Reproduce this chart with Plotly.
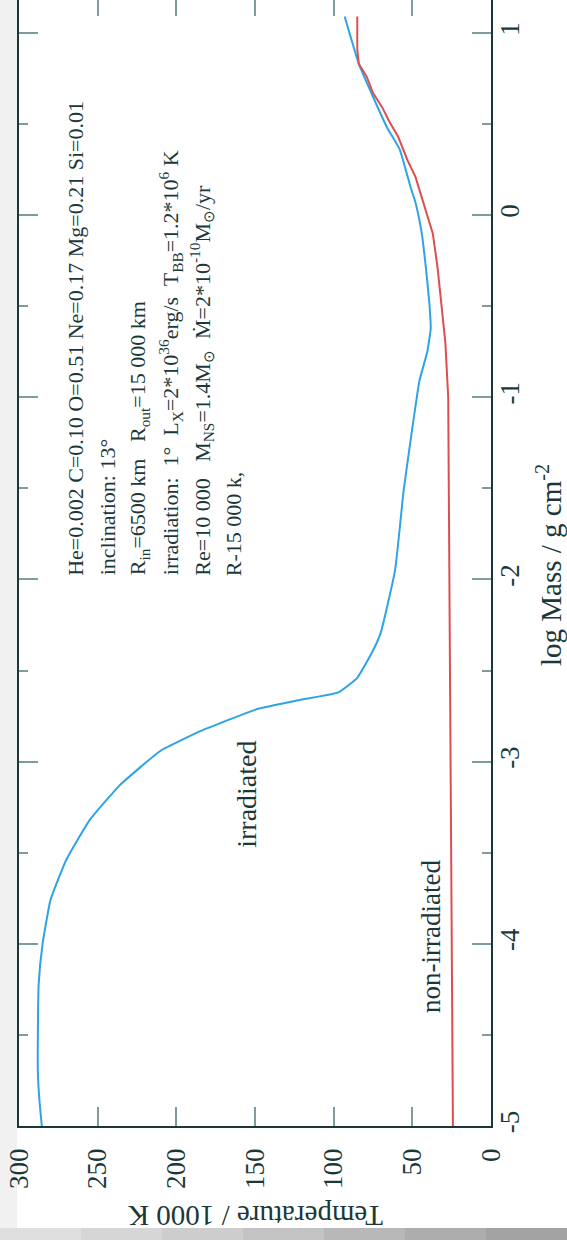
import plotly.graph_objects as go

# Irradiated atmosphere: temperature (1000 K) against log column mass (g cm^-2)
irr_logm = [-5.00, -4.86, -4.71, -4.49, -4.22, -4.00, -3.76, -3.54, -3.32, -3.13,
            -2.94, -2.83, -2.71, -2.66, -2.62, -2.54, -2.39, -2.29, -1.95, -1.51,
            -1.23, -0.91, -0.75, -0.62, -0.47, -0.28, -0.10, 0.07, 0.15, 0.36,
            0.48, 0.65, 0.83, 1.09]
irr_temp = [285.5, 287.0, 288.0, 288.0, 287.5, 285.0, 280.0, 270.0, 255.0, 236.0,
            210.0, 184.0, 148.0, 121.0, 97.0, 85.0, 75.0, 70.0, 61.0, 55.5,
            51.0, 45.5, 40.5, 38.3, 39.3, 41.5, 44.0, 48.0, 51.0, 58.0,
            66.0, 75.0, 84.0, 93.0]

# Non-irradiated atmosphere
non_logm = [-5.0, -4.0, -3.0, -2.0, -1.0, -0.7, -0.47, -0.285, -0.10, 0.044,
            0.21, 0.30, 0.43, 0.52, 0.59, 0.67, 0.76, 0.83, 0.91, 1.09]
non_temp = [24.2, 25.0, 25.8, 26.5, 27.2, 29.0, 32.0, 34.0, 37.0, 42.0,
            48.0, 53.0, 59.0, 65.0, 69.0, 75.0, 79.0, 84.0, 85.0, 85.0]

temp_ticks = [0, 50, 100, 150, 200, 250, 300]
temp_labels = ["0", "50", "100", "150", "200", "250", "300"]
logm_ticks = [-5, -4, -3, -2, -1, 0, 1]
logm_labels = ["-5", "-4", "-3", "-2", "-1", "0", "1"]
logm_minor = [-4.5, -3.5, -2.5, -1.5, -0.5, 0.5]

param_lines = [
    "He=0.002 C=0.10 O=0.51 Ne=0.17 Mg=0.21 Si=0.01",
    "inclination: 13°",
    "R<sub>in</sub>=6500 km   R<sub>out</sub>=15 000 km",
    "irradiation:  1°  L<sub>X</sub>=2*10<sup>36</sup>erg/s  T<sub>BB</sub>=1.2*10<sup>6</sup> K",
    "Re=10 000   M<sub>NS</sub>=1.4M<sub>⊙</sub>  Ṁ=2*10<sup>-10</sup>M<sub>⊙</sub>/yr",
    "R-15 000 k,",
]
param_temp = [264.0, 244.0, 224.0, 204.0, 184.0, 164.0]

SERIF = "Liberation Serif"
INK = "#1b3838"
TICK = "#7f9c9c"
W, H = 567, 1240
L, R, T, B = 19, 76, 0, 114
PW, PH = W - L - R, H - T - B


def px(xp):
    return (xp - L) / PW


def py(yp):
    return (H - B - yp) / PH


fig = go.Figure()
fig.add_trace(go.Scatter(x=irr_temp, y=irr_logm, mode="lines",
                         line=dict(color="#2ea3e6", width=2, shape="spline",
                                   smoothing=0.4)))
fig.add_trace(go.Scatter(x=non_temp, y=non_logm, mode="lines",
                         line=dict(color="#dd4f4f", width=2)))
# carrier for the mirrored top axis
fig.add_trace(go.Scatter(x=[None], y=[None], xaxis="x2", showlegend=False))

fig.update_layout(
    width=W, height=H,
    margin=dict(l=L, r=R, t=T, b=B),
    paper_bgcolor="white", plot_bgcolor="white",
    showlegend=False,
    xaxis=dict(range=[300, 0], tickmode="array", tickvals=temp_ticks,
               ticktext=temp_labels, tickangle=-90, ticks="inside", ticklen=19,
               tickwidth=1.5, tickcolor=TICK, showline=True, linecolor=INK,
               linewidth=1.5, mirror=False, showgrid=False, zeroline=False,
               ticklabelstandoff=10,
               tickfont=dict(family=SERIF, size=27, color=INK)),
    xaxis2=dict(overlaying="x", matches="x", side="top", anchor="y",
                tickmode="array", tickvals=temp_ticks, ticks="inside",
                ticklen=16, tickwidth=1.5, tickcolor=TICK, showticklabels=False,
                showline=False, showgrid=False, zeroline=False),
    yaxis=dict(range=[-5, 1.181], side="right", tickmode="array",
               tickvals=logm_ticks, ticktext=logm_labels, tickangle=-90,
               ticks="inside", ticklen=19, tickwidth=1.5, tickcolor=TICK,
               showline=True, linecolor=INK, linewidth=1.5, mirror="ticks",
               showgrid=False, zeroline=False, ticklabelstandoff=-6,
               minor=dict(tickmode="array", tickvals=logm_minor, ticks="inside",
                          ticklen=9, tickwidth=1.5, tickcolor=TICK,
                          showgrid=False),
               tickfont=dict(family=SERIF, size=27, color=INK)),
)

ann = []
for text, tx in zip(param_lines, param_temp):
    ann.append(dict(x=tx, y=-1.99, xref="x", yref="y", text=text,
                    textangle=-90, xanchor="center", yanchor="bottom",
                    showarrow=False, font=dict(family=SERIF, size=22, color=INK)))
ann.append(dict(x=155.5, y=-3.18, xref="x", yref="y", text="irradiated",
                textangle=-90, showarrow=False,
                font=dict(family=SERIF, size=28, color=INK)))
ann.append(dict(x=38.5, y=-3.96, xref="x", yref="y", text="non-irradiated",
                textangle=-90, showarrow=False,
                font=dict(family=SERIF, size=27, color=INK)))
ann.append(dict(x=px(256), y=py(1234), xref="paper", yref="paper",
                text="Temperature / 1000 K", textangle=180, showarrow=False,
                font=dict(family=SERIF, size=29, color=INK)))
ann.append(dict(x=px(569), y=py(565), xref="paper", yref="paper",
                text="log Mass / g cm<sup>-2</sup>", textangle=-90,
                showarrow=False, font=dict(family=SERIF, size=29, color=INK)))
fig.update_layout(annotations=ann)

# page edge shading
shapes = [dict(type="rect", xref="paper", yref="paper", x0=px(0), x1=px(17),
               y0=py(1240), y1=py(0), fillcolor="#f1f1f1", line_width=0,
               layer="below")]
band = ["#dedede", "#d6d6d6", "#cdcdcd", "#c3c3c3", "#b8b8b8", "#adadad", "#a3a3a3"]
step = W / len(band)
for i, c in enumerate(band):
    shapes.append(dict(type="rect", xref="paper", yref="paper",
                       x0=px(i * step), x1=px((i + 1) * step + 1),
                       y0=py(1240), y1=py(1228), fillcolor=c, line_width=0,
                       layer="below"))
fig.update_layout(shapes=shapes)

fig.write_html("out.html")
